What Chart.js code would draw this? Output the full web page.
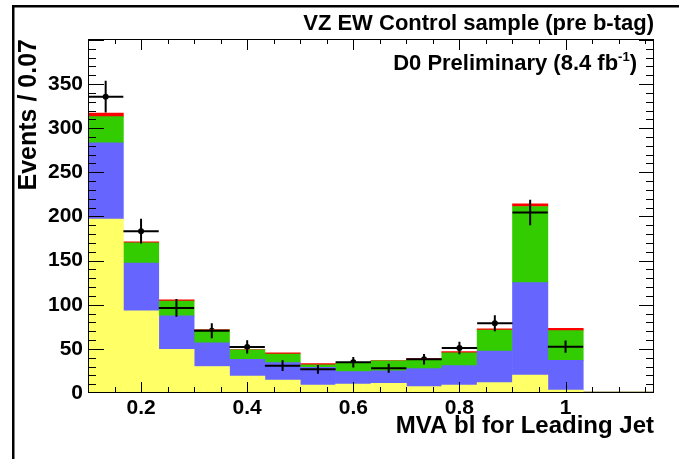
<!DOCTYPE html>
<html><head><meta charset="utf-8">
<script src="https://cdn.jsdelivr.net/npm/chart.js@4/dist/chart.umd.min.js"></script>
<style>html,body{margin:0;padding:0;background:#fff}#wrap{width:679px;height:459px;position:relative}</style>
</head><body><div id="wrap"><canvas id="c" width="679" height="459"></canvas></div>
<script>
// ---- data ----
const binLabels = ['0.133','0.200','0.267','0.333','0.400','0.467','0.533','0.600','0.667','0.733','0.800','0.867','0.933','1.000','1.067','1.133'];
const yellowVals = [197, 93, 49.5, 30, 19.3, 14.7, 9, 10.2, 11, 7.2, 9, 11.7, 20.4, 3.4, 1, 1];
const blueVals   = [86.4, 54.2, 37.8, 26.7, 18.9, 19.7, 20, 14, 14, 20.4, 22, 35.9, 104.6, 33.6, 0, 0];
const greenVals  = [29.6, 22.8, 16.7, 14.7, 10.6, 9.8, 3, 9.4, 11.3, 9.8, 14.4, 23.8, 86.3, 33.7, 0, 0];
const redVals    = [4, 1.2, 1.4, 0.5, 0.5, 1.2, 1.2, 0.3, 0.3, 1.5, 1.4, 1.2, 3, 2.6, 0, 0];
const dataX      = [0.1333, 0.2, 0.2667, 0.3333, 0.4, 0.4667, 0.5333, 0.6, 0.6667, 0.7333, 0.8, 0.8667, 0.9333, 1.0];
const dataY      = [335.6, 183.3, 96.4, 70.6, 52.2, 31, 26.8, 34.8, 28, 38.2, 51, 79, 204.4, 52.5];
const dataErr    = [18, 14, 10, 8.5, 7.5, 6, 5, 6, 5, 6, 7, 9, 14.5, 7];
const binHalfWidth = 0.0333;
const xTickValues = [0.2, 0.4, 0.6, 0.8, 1];
const yTickValues = [0, 50, 100, 150, 200, 250, 300, 350];
const xRange = [0.1, 1.1667];
const yRange = [0, 401];

const FONT = "'Liberation Sans', Arial, Helvetica, sans-serif";

const decoPlugin = {
  id: 'deco',
  beforeDraw(chart) {
    const ctx = chart.ctx;
    ctx.save();
    ctx.fillStyle = '#fff';
    ctx.fillRect(0, 0, chart.width, chart.height);
    ctx.fillStyle = '#000';
    ctx.fillRect(12, 5, 2.5, chart.height - 5);
    ctx.fillRect(12, 5, chart.width - 12, 2.5);
    ctx.restore();
  },
  afterDatasetsDraw(chart) {
    const ctx = chart.ctx, xs = chart.scales.x, ys = chart.scales.y;
    ctx.save();
    ctx.strokeStyle = '#000';
    ctx.lineWidth = 2;
    ctx.beginPath();
    for (let i = 0; i < dataX.length; i++) {
      const px = xs.getPixelForValue(dataX[i]);
      const py = ys.getPixelForValue(dataY[i]);
      ctx.moveTo(xs.getPixelForValue(dataX[i] - binHalfWidth), py);
      ctx.lineTo(xs.getPixelForValue(dataX[i] + binHalfWidth), py);
      ctx.moveTo(px, ys.getPixelForValue(dataY[i] + dataErr[i]));
      ctx.lineTo(px, ys.getPixelForValue(dataY[i] - dataErr[i]));
    }
    ctx.stroke();
    ctx.restore();
  },
  afterDraw(chart) {
    const ctx = chart.ctx, a = chart.chartArea, xs = chart.scales.x, ys = chart.scales.y;
    ctx.save();
    ctx.strokeStyle = '#000';
    ctx.lineWidth = 1;
    ctx.beginPath();
    for (let k = 3; k <= 23; k++) {
      const v = k * 0.05;
      const p = Math.round(xs.getPixelForValue(v)) + 0.5;
      const major = k % 4 === 0;
      ctx.moveTo(p, a.bottom); ctx.lineTo(p, a.bottom - (major ? 11 : 6));
      ctx.moveTo(p, a.top); ctx.lineTo(p, a.top + (major ? 11 : 5));
    }
    for (let k = 1; k <= 40; k++) {
      const v = k * 10;
      const p = Math.round(ys.getPixelForValue(v)) + 0.5;
      const major = k % 5 === 0;
      ctx.moveTo(a.left, p); ctx.lineTo(a.left + (major ? 16 : 8), p);
      ctx.moveTo(a.right, p); ctx.lineTo(a.right - (major ? 15 : 8), p);
    }
    ctx.stroke();
    ctx.strokeRect(Math.round(a.left) + 0.5, Math.round(a.top) + 0.5, Math.round(a.right - a.left) - 1, Math.round(a.bottom - a.top) - 1);
    ctx.fillStyle = '#000';
    ctx.textBaseline = 'alphabetic';
    ctx.textAlign = 'left';
    const big = 'bold 22px ' + FONT, small = 'bold 13px ' + FONT;
    const t1 = 'D0 Preliminary (8.4 fb', t2 = '-1', t3 = ')';
    ctx.font = big; const w1 = ctx.measureText(t1).width, w3 = ctx.measureText(t3).width;
    ctx.font = small; const w2 = ctx.measureText(t2).width;
    let x = 637 - (w1 + w2 + w3);
    ctx.font = big; ctx.fillText(t1, x, 70); x += w1;
    ctx.font = small; ctx.fillText(t2, x, 61); x += w2;
    ctx.font = big; ctx.fillText(t3, x, 70);
    ctx.restore();
  }
};

const barDs = (label, data, color) => ({
  type: 'bar', label, data, backgroundColor: color, borderWidth: 0,
  xAxisID: 'xb', yAxisID: 'y', barPercentage: 1, categoryPercentage: 1, grouped: false
});

new Chart(document.getElementById('c'), {
  type: 'bar',
  data: {
    labels: binLabels,
    datasets: [
      barDs('Yellow', yellowVals, '#ffff66'),
      barDs('Blue', blueVals, '#6666ff'),
      barDs('Green', greenVals, '#33cc00'),
      barDs('Red', redVals, '#ff0000'),
      {
        type: 'scatter', label: 'Data',
        data: dataX.map((x, i) => ({ x, y: dataY[i] })),
        xAxisID: 'x', yAxisID: 'y',
        pointRadius: 3, pointBackgroundColor: '#000', pointBorderWidth: 0, showLine: false
      }
    ]
  },
  options: {
    responsive: false, animation: false, devicePixelRatio: 1,
    layout: { padding: { left: 0, right: 25, top: 4, bottom: 0 } },
    plugins: {
      legend: { display: false },
      tooltip: { enabled: false },
      title: {
        display: true, text: 'VZ EW Control sample (pre b-tag)', align: 'end', color: '#000',
        font: { family: FONT, size: 22, weight: 'bold', lineHeight: 1.2 },
        padding: { top: 6.8, bottom: 1.8 }
      }
    },
    scales: {
      xb: { type: 'category', display: false, stacked: true, offset: true, grid: { display: false } },
      x: {
        type: 'linear', position: 'bottom', min: xRange[0], max: xRange[1], offset: false,
        grid: { display: false, drawTicks: false, offset: false }, border: { display: false },
        afterBuildTicks: s => { s.ticks = xTickValues.map(v => ({ value: v })); },
        afterFit: s => { s.height = 66; },
        ticks: { color: '#000', padding: 3, autoSkip: false, maxRotation: 0, font: { family: FONT, size: 21, weight: 'bold' }, callback: v => String(v) },
        title: { display: true, text: 'MVA bl for Leading Jet', align: 'end', color: '#000',
          font: { family: FONT, size: 24, weight: 'bold', lineHeight: 1.2 }, padding: { top: 0, bottom: 18.6 } }
      },
      y: {
        type: 'linear', position: 'left', min: yRange[0], max: yRange[1], stacked: true,
        grid: { display: false, drawTicks: false }, border: { display: false },
        afterBuildTicks: s => { s.ticks = yTickValues.map(v => ({ value: v })); },
        afterFit: s => { s.width = 88; },
        ticks: { color: '#000', padding: 5, autoSkip: false, font: { family: FONT, size: 21, weight: 'bold' }, callback: v => String(v) },
        title: { display: true, text: 'Events / 0.07', align: 'end', color: '#000',
          font: { family: FONT, size: 25, weight: 'bold', lineHeight: 1.2 }, padding: { top: 14, bottom: 0 } }
      }
    }
  },
  plugins: [decoPlugin]
});
</script></body></html>
